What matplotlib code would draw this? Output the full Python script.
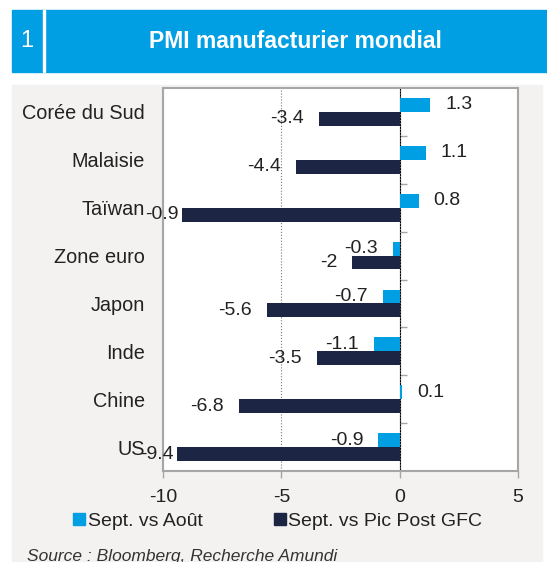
import matplotlib
matplotlib.use('Agg')
import matplotlib.pyplot as plt
from matplotlib.patches import Rectangle
from matplotlib.lines import Line2D

plt.rcParams['font.family'] = ['Liberation Sans', 'DejaVu Sans']

pays = ['Corée du Sud', 'Malaisie', 'Taïwan', 'Zone euro', 'Japon', 'Inde', 'Chine', 'US']
vs_aout = [1.3, 1.1, 0.8, -0.3, -0.7, -1.1, 0.1, -0.9]
vs_pic = [-3.4, -4.4, -9.2, -2.0, -5.6, -3.5, -6.8, -9.4]
# étiquettes telles qu'affichées dans le graphique d'origine
lbl_aout = ['1.3', '1.1', '0.8', '-0.3', '-0.7', '-1.1', '0.1', '-0.9']
lbl_pic = ['-3.4', '-4.4', '-0.9', '-2', '-5.6', '-3.5', '-6.8', '-9.4']
xticks = [-10, -5, 0, 5]

bleu = '#009fe3'
marine = '#1c2544'
gris_fond = '#f3f2f0'
gris_axe = '#a6a6a6'

W, H = 547, 562
fig = plt.figure(figsize=(W / 100, H / 100), dpi=100)
fig.patch.set_facecolor('white')


def px(x0, y0, x1, y1):
    # rectangle en pixels (origine en haut) -> coordonnées figure
    return (x0 / W, 1 - y1 / H), (x1 - x0) / W, (y1 - y0) / H


xy, w, h = px(12, 85, 542, 562)
fig.patches.append(Rectangle(xy, w, h, transform=fig.transFigure, color=gris_fond, zorder=-2))
xy, w, h = px(12, 10, 547, 72)
fig.patches.append(Rectangle(xy, w, h, transform=fig.transFigure, color=bleu, zorder=-2))
xy, w, h = px(43, 10, 45, 72)
fig.patches.append(Rectangle(xy, w, h, transform=fig.transFigure, color='white', zorder=-1))
fig.text(27 / W, 1 - 41 / H, '1', color='white', fontsize=17, ha='center', va='center')
fig.text(295 / W, 1 - 41 / H, 'PMI manufacturier mondial', color='white', fontsize=16.5,
         fontweight='bold', ha='center', va='center')
fig.text(27 / W, 1 - 556 / H, 'Source : Bloomberg, Recherche Amundi', color='#333333',
         fontsize=12.5, style='italic', ha='left', va='center')

ax = fig.add_axes([163 / W, 1 - 471 / H, (518 - 163) / W, (471 - 88) / H])
ax.set_facecolor('white')

ypos = list(range(len(pays)))
bh = 0.29
ax.barh([y - bh / 2 for y in ypos], vs_aout, height=bh, color=bleu, zorder=2)
ax.barh([y + bh / 2 for y in ypos], vs_pic, height=bh, color=marine, zorder=2)

for y, v, t in zip(ypos, vs_aout, lbl_aout):
    off = 15 if v >= 0 else -15
    ax.annotate(t, (v, y - bh / 2), xytext=(off, 0), textcoords='offset pixels',
                ha='left' if v >= 0 else 'right', va='center', fontsize=14, color='#222222', zorder=3)
for y, v, t in zip(ypos, vs_pic, lbl_pic):
    off = -15 if v > -8 else -3
    ax.annotate(t, (v, y + bh / 2), xytext=(off, 0), textcoords='offset pixels',
                ha='right', va='center', fontsize=14, color='#222222', zorder=3,
                annotation_clip=False)

ax.set_xlim(-10, 5)
ax.set_ylim(len(pays) - 0.5, -0.5)
ax.set_xticks(xticks)
ax.set_xticklabels([str(t) for t in xticks])
ax.set_yticks(ypos)
ax.set_yticklabels(pays)
ax.tick_params(axis='y', length=0, pad=13, labelsize=14.3, labelcolor='#222222')
ax.tick_params(axis='x', length=5, width=1, color=gris_axe, pad=8, labelsize=14, labelcolor='#222222')
for s in ax.spines.values():
    s.set_color(gris_axe)
    s.set_linewidth(1.5)
ax.grid(axis='x', ls=':', color='#777777', lw=0.8, zorder=1)
ax.set_axisbelow(True)

# axe vertical à zéro avec graduations entre catégories
sec = ax.secondary_yaxis(2 / 3)
sec.set_yticks([y + 0.5 for y in ypos[:-1]])
sec.set_yticklabels([])
sec.tick_params(length=5, width=1, color=gris_axe)
sec.spines['left'].set_color(gris_axe)
sec.spines['left'].set_linewidth(1.5)

handles = [Line2D([], [], marker='s', ls='', color=bleu, markersize=8.5),
           Line2D([], [], marker='s', ls='', color=marine, markersize=8.5)]
fig.legend(handles, ['Sept. vs Août', 'Sept. vs Pic Post GFC'], loc='center',
           bbox_to_anchor=(277 / W, 1 - 521 / H), ncol=2, frameon=False, fontsize=14,
           handletextpad=0.05, columnspacing=3.55, handlelength=0.8, labelcolor='#222222')

fig.savefig('out.png', dpi=100, facecolor=fig.get_facecolor())
